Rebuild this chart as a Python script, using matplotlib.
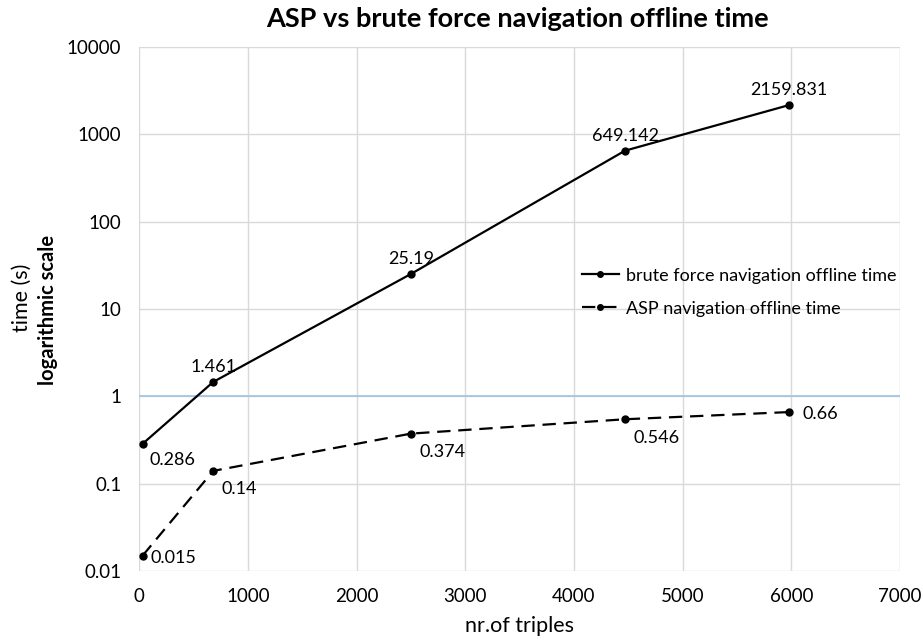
import matplotlib
matplotlib.use("Agg")
import matplotlib.pyplot as plt
from matplotlib.ticker import FixedLocator, FixedFormatter

plt.rcParams['font.family'] = ['Lato', 'DejaVu Sans']

triples = [30, 680, 2500, 4470, 5980]
brute = [0.286, 1.461, 25.19, 649.142, 2159.831]
asp = [0.015, 0.14, 0.374, 0.546, 0.66]
brute_labels = ["0.286", "1.461", "25.19", "649.142", "2159.831"]
asp_labels = ["0.015", "0.14", "0.374", "0.546", "0.66"]
y_ticks = [0.01, 0.1, 1, 10, 100, 1000, 10000]
y_tick_labels = ["0.01", "0.1", "1", "10", "100", "1000", "10000"]
x_ticks = [0, 1000, 2000, 3000, 4000, 5000, 6000, 7000]

fig = plt.figure(figsize=(9.23, 6.43), dpi=100)
ax = fig.add_axes([0.151, 0.112, 0.824, 0.815])

ax.set_yscale('log')
ax.set_xlim(0, 7000)
ax.set_ylim(0.01, 10000)

ax.plot(triples, brute, color='black', lw=1.6, marker='o', ms=5,
        label='brute force navigation offline time', zorder=3)
ax.plot(triples, asp, color='black', lw=1.6, marker='o', ms=5, ls=(0, (6, 3.5)),
        label='ASP navigation offline time', zorder=3)

# data labels
fs = 13
ax.annotate(brute_labels[0], (triples[0], brute[0]), xytext=(5, -15),
            textcoords='offset points', fontsize=fs)
for i in range(1, 5):
    ax.annotate(brute_labels[i], (triples[i], brute[i]), xytext=(0, 7),
                textcoords='offset points', fontsize=fs, ha='center')
ax.annotate(asp_labels[0], (triples[0], asp[0]), xytext=(6, -5),
            textcoords='offset points', fontsize=fs)
for i in range(1, 4):
    ax.annotate(asp_labels[i], (triples[i], asp[i]), xytext=(6, -17),
                textcoords='offset points', fontsize=fs)
ax.annotate(asp_labels[4], (triples[4], asp[4]), xytext=(10, -5),
            textcoords='offset points', fontsize=fs)

ax.yaxis.set_major_locator(FixedLocator(y_ticks))
ax.yaxis.set_major_formatter(FixedFormatter(y_tick_labels))
ax.yaxis.set_minor_locator(FixedLocator([]))
ax.set_xticks(x_ticks)
ax.tick_params(length=0, labelsize=13.5)
ax.tick_params(axis='x', pad=12)
ax.tick_params(axis='y', pad=13)

for s in ax.spines.values():
    s.set_visible(False)
ax.grid(True, color='#d9d9d9', lw=1)
ax.set_axisbelow(True)
ax.axhline(1, color='#9dc3e6', lw=1.2, zorder=2)

ax.set_xlabel('nr.of triples', fontsize=15.5, labelpad=8)
fig.text(0.024, 0.537, 'time (s)', rotation=90, fontsize=15.5, va='center', ha='center')
fig.text(0.052, 0.518, 'logarithmic scale', rotation=90, fontsize=14.5,
         fontweight='bold', va='center', ha='center')
fig.text(0.561, 0.970, 'ASP vs brute force navigation offline time', fontsize=19.5,
         fontweight='bold', ha='center', va='center')

ax.legend(loc='center left', bbox_to_anchor=(0.56, 0.532), frameon=False,
          fontsize=13, handlelength=2.1, handletextpad=0.35, labelspacing=0.95,
          markerscale=0.8)

fig.savefig('out.png', dpi=100)
